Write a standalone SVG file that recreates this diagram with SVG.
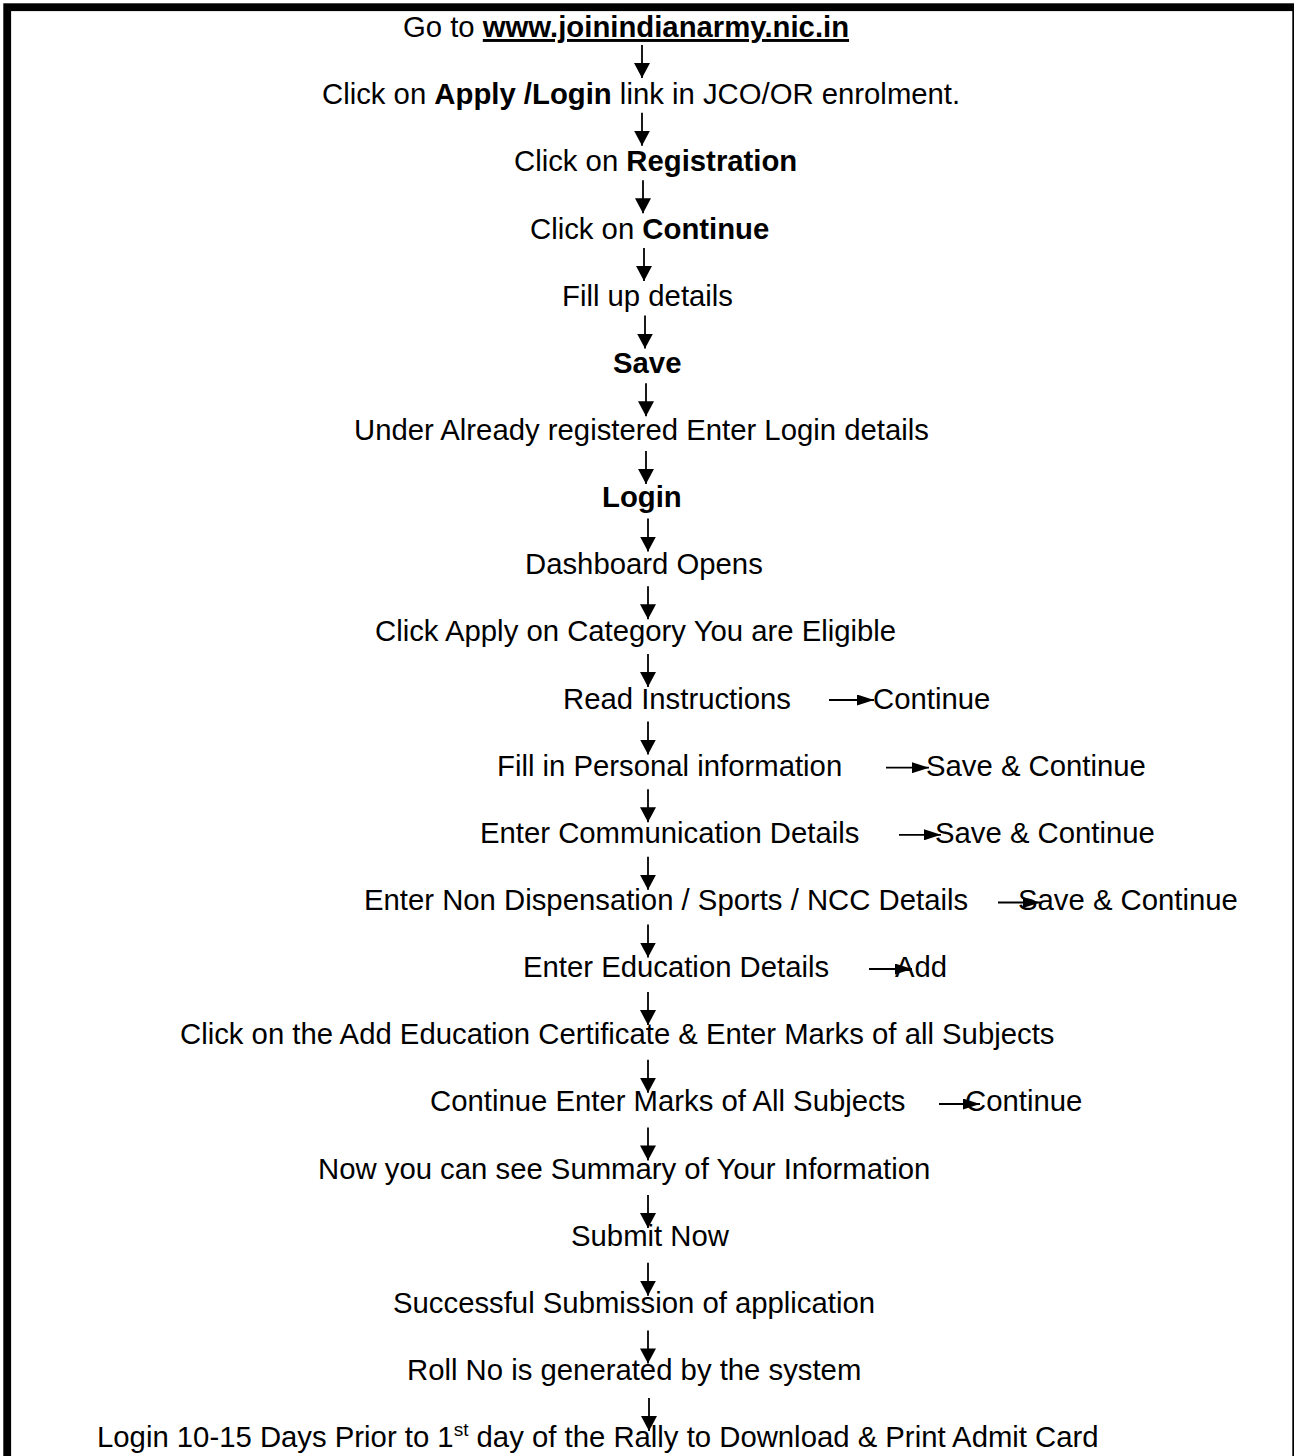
<svg xmlns="http://www.w3.org/2000/svg" width="1294" height="1456" viewBox="0 0 1294 1456">
<style>
text{font-family:"Liberation Sans",Arial,sans-serif;font-size:29.3px;fill:#000}
.b{font-weight:bold}
.u{text-decoration:underline}
.c{stroke:#000;stroke-width:1.8;fill:none}
.v{marker-end:url(#av)}
.h{marker-end:url(#ah)}
</style>
<defs>
<marker id="av" viewBox="0 0 15 16" refX="15" refY="8" markerWidth="15" markerHeight="16" markerUnits="userSpaceOnUse" orient="auto"><path d="M0,0L15,8L0,16z" fill="#000"/></marker>
<marker id="ah" viewBox="0 0 17 11" refX="17" refY="5.5" markerWidth="17" markerHeight="11" markerUnits="userSpaceOnUse" orient="auto"><path d="M0,0L17,5.5L0,11z" fill="#000"/></marker>
</defs>
<rect width="1294" height="1456" fill="#fff"/>
<rect x="7.2" y="7.2" width="1289" height="1500" fill="none" stroke="#000" stroke-width="7.8"/>
<g id="n1"><text x="403" y="37">Go to <tspan class="b u">www.joinindianarmy.nic.in</tspan></text></g>
<g id="n2"><text x="322" y="104">Click on <tspan class="b">Apply /Login</tspan> link in JCO/OR enrolment.</text></g>
<g id="n3"><text x="514" y="171.3">Click on <tspan class="b">Registration</tspan></text></g>
<g id="n4"><text x="530" y="238.5">Click on <tspan class="b">Continue</tspan></text></g>
<g id="n5"><text x="562" y="305.6">Fill up details</text></g>
<g id="n6"><text class="b" x="613" y="372.8">Save</text></g>
<g id="n7"><text x="354" y="439.9">Under Already registered Enter Login details</text></g>
<g id="n8"><text class="b" x="602" y="507">Login</text></g>
<g id="n9"><text x="525" y="574.2">Dashboard Opens</text></g>
<g id="n10"><text x="375" y="641.4">Click Apply on Category You are Eligible</text></g>
<g id="n11"><text x="563" y="708.5">Read Instructions</text><text x="873" y="708.5">Continue</text></g>
<g id="n12"><text x="497" y="775.7">Fill in Personal information</text><text x="926" y="775.7">Save &amp; Continue</text></g>
<g id="n13"><text x="480" y="842.8">Enter Communication Details</text><text x="935" y="842.8">Save &amp; Continue</text></g>
<g id="n14"><text x="364" y="910">Enter Non Dispensation / Sports / NCC Details</text><text x="1018" y="910">Save &amp; Continue</text></g>
<g id="n15"><text x="523" y="977.1">Enter Education Details</text><text x="895" y="977.1">Add</text></g>
<g id="n16"><text x="180" y="1044.3">Click on the Add Education Certificate &amp; Enter Marks of all Subjects</text></g>
<g id="n17"><text x="430" y="1111.4">Continue Enter Marks of All Subjects</text><text x="965" y="1111.4">Continue</text></g>
<g id="n18"><text x="318" y="1178.6">Now you can see Summary of Your Information</text></g>
<g id="n19"><text x="571" y="1245.7">Submit Now</text></g>
<g id="n20"><text x="393" y="1312.9">Successful Submission of application</text></g>
<g id="n21"><text x="407" y="1380">Roll No is generated by the system</text></g>
<g id="n22"><text x="97" y="1447">Login 10-15 Days Prior to 1<tspan font-size="19" dy="-11">st</tspan><tspan dy="11"> day of the Rally to Download &amp; Print Admit Card</tspan></text></g>
<g id="connectors">
<line class="c v" x1="642" y1="45" x2="642" y2="78"/>
<line class="c v" x1="642" y1="112.7" x2="642" y2="145.7"/>
<line class="c v" x1="643" y1="180.3" x2="643" y2="213.3"/>
<line class="c v" x1="644" y1="248" x2="644" y2="281"/>
<line class="c v" x1="645" y1="315.6" x2="645" y2="348.6"/>
<line class="c v" x1="646" y1="383.3" x2="646" y2="416.3"/>
<line class="c v" x1="646" y1="450.9" x2="646" y2="483.9"/>
<line class="c v" x1="648" y1="518.6" x2="648" y2="551.6"/>
<line class="c v" x1="648" y1="586.2" x2="648" y2="619.2"/>
<line class="c v" x1="648" y1="653.9" x2="648" y2="686.9"/>
<line class="c v" x1="648" y1="721.5" x2="648" y2="754.5"/>
<line class="c v" x1="648" y1="789.2" x2="648" y2="822.2"/>
<line class="c v" x1="648" y1="856.8" x2="648" y2="889.8"/>
<line class="c v" x1="648" y1="924.5" x2="648" y2="957.5"/>
<line class="c v" x1="648" y1="992.1" x2="648" y2="1025.1"/>
<line class="c v" x1="648" y1="1059.8" x2="648" y2="1092.8"/>
<line class="c v" x1="648" y1="1127.4" x2="648" y2="1160.4"/>
<line class="c v" x1="648" y1="1195.1" x2="648" y2="1228.1"/>
<line class="c v" x1="648" y1="1262.7" x2="648" y2="1295.7"/>
<line class="c v" x1="648" y1="1330.4" x2="648" y2="1363.4"/>
<line class="c v" x1="649" y1="1398" x2="649" y2="1431"/>
<line class="c h" x1="829" y1="700" x2="874" y2="700"/>
<line class="c h" x1="886" y1="767.7" x2="929" y2="767.7"/>
<line class="c h" x1="899" y1="834.8" x2="941" y2="834.8"/>
<line class="c h" x1="998" y1="902.5" x2="1040" y2="902.5"/>
<line class="c h" x1="869" y1="969" x2="912" y2="969"/>
<line class="c h" x1="939" y1="1104" x2="980" y2="1104"/>
</g>
</svg>
